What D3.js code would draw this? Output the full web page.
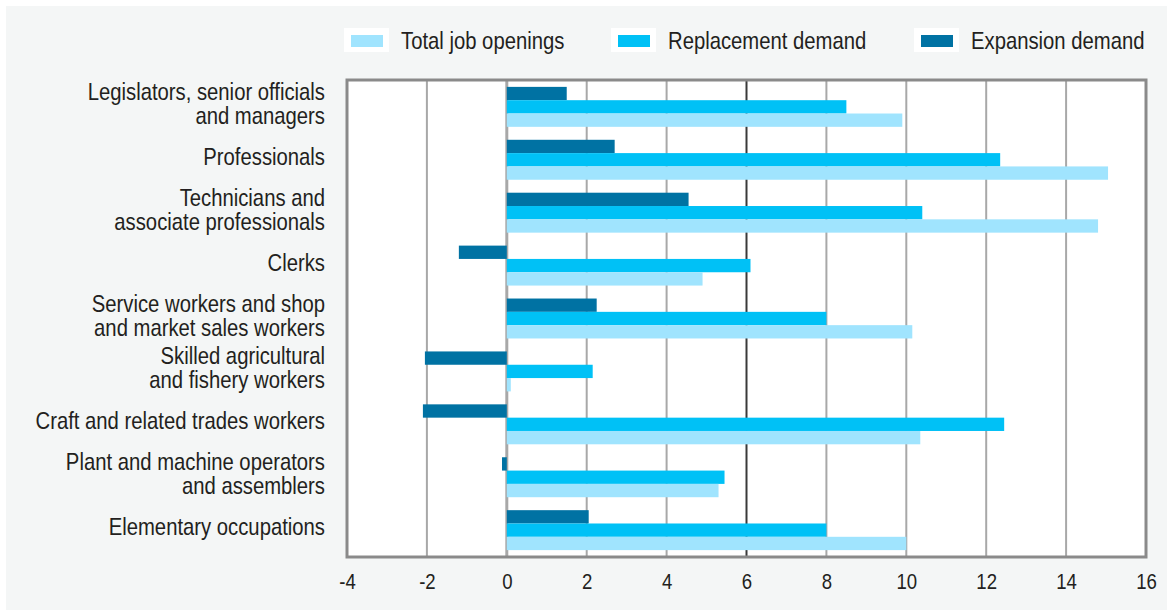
<!DOCTYPE html>
<html>
<head>
<meta charset="utf-8">
<script src="https://cdn.jsdelivr.net/npm/d3@7"></script>
<style>
  html, body { margin: 0; padding: 0; background: #fff; }
  text { font-family: "Liberation Sans", Arial, sans-serif; fill: #231f20; }
</style>
</head>
<body>
<div id="chart"></div>
<script>
var svgWidth = 1167;
var svgHeight = 610;
var margin = {top: 80, right: 21, bottom: 53, left: 347};
var width = svgWidth - margin.left - margin.right;
var height = svgHeight - margin.top - margin.bottom;
// the original type is a narrow sans, squeeze the regular one horizontally
var narrow = 0.845;

// occupations, top to bottom ("\n" = line break in the label)
var categories = [
    "Legislators, senior officials\nand managers",
    "Professionals",
    "Technicians and\nassociate professionals",
    "Clerks",
    "Service workers and shop\nand market sales workers",
    "Skilled agricultural\nand fishery workers",
    "Craft and related trades workers",
    "Plant and machine operators\nand assemblers",
    "Elementary occupations"
];

var totalJobOpenings = [9.9, 15.05, 14.8, 4.9, 10.15, 0.1, 10.35, 5.3, 10.0];
var replacementDemand = [8.5, 12.35, 10.4, 6.1, 8.0, 2.15, 12.45, 5.45, 8.0];
var expansionDemand = [1.5, 2.7, 4.55, -1.2, 2.25, -2.05, -2.1, -0.12, 2.05];

var xTicks = [-4, -2, 0, 2, 4, 6, 8, 10, 12, 14, 16];

var seriesNames = ["Expansion demand", "Replacement demand", "Total job openings"];
var legendOrder = ["Total job openings", "Replacement demand", "Expansion demand"];
var colors = {
    "Total job openings": "#a0e4fe",
    "Replacement demand": "#00c1f6",
    "Expansion demand": "#0072a3"
};

var rows = categories.map(function(c, i) {
    return {
        category: c,
        values: [
            {series: "Expansion demand", value: expansionDemand[i]},
            {series: "Replacement demand", value: replacementDemand[i]},
            {series: "Total job openings", value: totalJobOpenings[i]}
        ]
    };
});

var svg = d3.select("#chart").append("svg")
    .attr("width", svgWidth)
    .attr("height", svgHeight);

// grey page background
svg.append("rect")
    .attr("x", 6).attr("y", 6)
    .attr("width", svgWidth - 6).attr("height", svgHeight - 6)
    .attr("fill", "#f4f6f6");

var g = svg.append("g")
    .attr("transform", "translate(" + margin.left + "," + margin.top + ")");

var xScale = d3.scaleLinear().domain([-4, 16]).range([0, width]);
var yScale = d3.scaleBand()
    .domain(categories)
    .range([0, height])
    .paddingInner(0.245)
    .paddingOuter(0.13);
var ySub = d3.scaleBand()
    .domain(seriesNames)
    .range([0, yScale.bandwidth()]);

g.append("rect")
    .attr("width", width)
    .attr("height", height)
    .attr("fill", "#fff");

// vertical grid lines
g.selectAll(".grid")
    .data(xTicks.filter(function(t) { return t > -4 && t < 16; }))
    .enter()
    .append("line")
    .attr("x1", function(d) { return xScale(d); })
    .attr("x2", function(d) { return xScale(d); })
    .attr("y1", 0)
    .attr("y2", height)
    .attr("stroke", function(d) { return d === 6 ? "#3a3a3a" : "#a8a8a8"; })
    .attr("stroke-width", function(d) { return d === 0 ? 3 : 2; });

var groups = g.selectAll(".group")
    .data(rows)
    .enter()
    .append("g")
    .attr("transform", function(d) { return "translate(0," + yScale(d.category) + ")"; });

groups.selectAll("rect")
    .data(function(d) { return d.values; })
    .enter()
    .append("rect")
    .attr("x", function(d) { return xScale(Math.min(0, d.value)); })
    .attr("y", function(d) { return ySub(d.series); })
    .attr("width", function(d) { return Math.abs(xScale(d.value) - xScale(0)); })
    .attr("height", ySub.bandwidth())
    .attr("fill", function(d) { return colors[d.series]; });

// frame
g.append("rect")
    .attr("width", width)
    .attr("height", height)
    .attr("fill", "none")
    .attr("stroke", "#8a8a8a")
    .attr("stroke-width", 3);

// x axis (plain hyphen for negatives, as in the original)
var bottomAxis = d3.axisBottom(xScale)
    .tickValues(xTicks)
    .tickSize(0)
    .tickPadding(16)
    .tickFormat(function(d) { return String(d); });
var xAxis = g.append("g")
    .attr("transform", "translate(0," + height + ")")
    .call(bottomAxis);
xAxis.select(".domain").remove();
xAxis.selectAll("text")
    .style("font-size", "22px")
    .style("font-family", null)
    .attr("fill", "#231f20")
    .attr("transform", "scale(" + narrow + ",1)");

// category labels
var labels = g.selectAll(".cat")
    .data(categories)
    .enter()
    .append("text")
    .attr("text-anchor", "end")
    .style("font-size", "24px")
    .attr("transform", function(d) {
        return "translate(-22," + (yScale(d) + yScale.bandwidth() / 2) + ") scale(" + narrow + ",1)";
    });

labels.selectAll("tspan")
    .data(function(d) {
        var lines = d.split("\n");
        return lines.map(function(l, i) { return {text: l, i: i, n: lines.length}; });
    })
    .enter()
    .append("tspan")
    .attr("x", 0)
    .attr("dy", function(d) {
        return d.i === 0 ? (-(d.n - 1) * 12 + 5) + "px" : "24px";
    })
    .text(function(d) { return d.text; });

// legend
var legendX = [344, 611, 914];
var legend = svg.selectAll(".legend")
    .data(legendOrder)
    .enter()
    .append("g")
    .attr("transform", function(d, i) { return "translate(" + legendX[i] + ",28)"; });

legend.append("rect")
    .attr("width", 45).attr("height", 24)
    .attr("fill", "#fff");
legend.append("rect")
    .attr("x", 7).attr("y", 7)
    .attr("width", 32).attr("height", 12)
    .attr("fill", function(d) { return colors[d]; });
legend.append("text")
    .attr("transform", "translate(57,21) scale(" + narrow + ",1)")
    .style("font-size", "24px")
    .text(function(d) { return d; });
</script>
</body>
</html>
